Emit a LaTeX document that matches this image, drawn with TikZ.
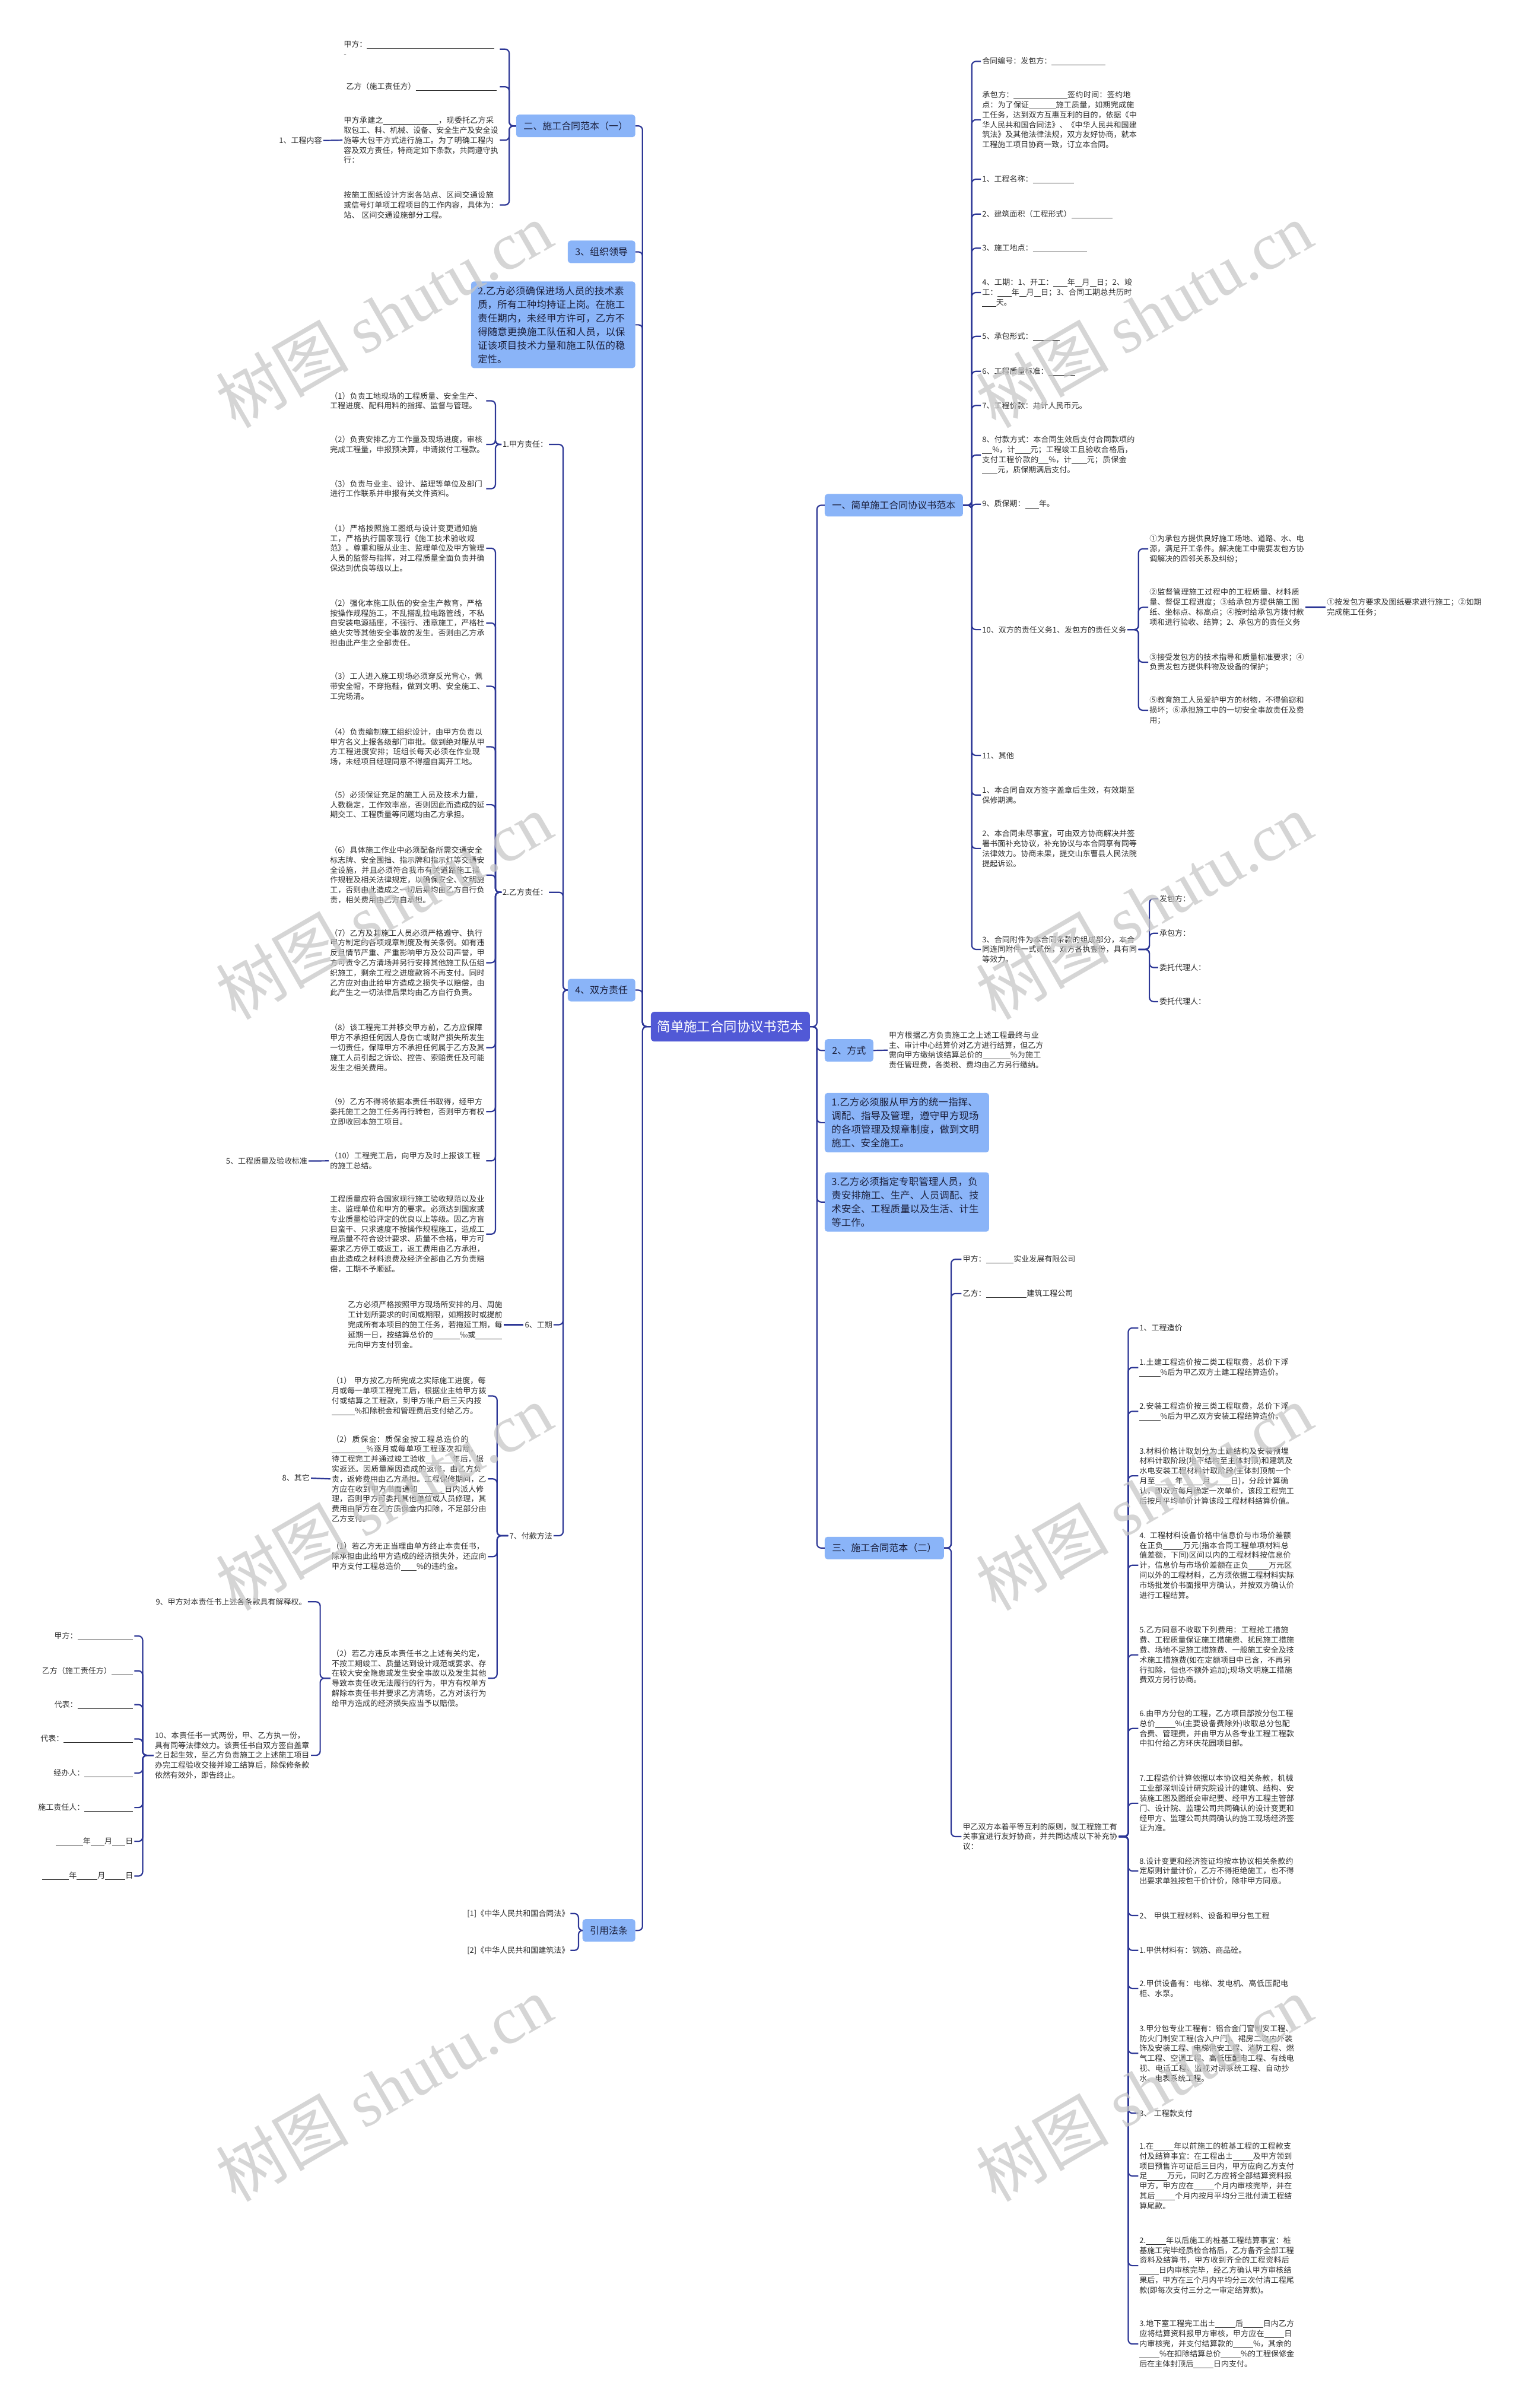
\documentclass[tikz,border=0pt]{standalone}
\usepackage{fontspec}
\setmainfont{Noto Sans CJK SC}
\newfontfamily\wmserif{Liberation Serif}
\XeTeXlinebreaklocale "zh"
\XeTeXlinebreakskip=0pt plus 1pt
\definecolor{lnc}{HTML}{2D3796}
\definecolor{txc}{HTML}{2E2E2E}
\definecolor{bluefill}{HTML}{8AB4F8}
\definecolor{ctrfill}{HTML}{5159D6}
\definecolor{navytext}{HTML}{1B1F3B}
\newcommand\blnk[1]{\penalty0\rule[-0.18em]{#1em}{0.06em}\penalty0}
\newcommand\conL[3]{\draw[ln] (#1.west) -- (#1.west -| #3) -- (#3 |- #2.east) -- (#2.east);}
\newcommand\conR[3]{\draw[ln] (#1.east) -- (#1.east -| #3) -- (#3 |- #2.west) -- (#2.west);}
\tikzset{
  ln/.style={draw=lnc, line width=2.2pt, rounded corners=7pt},
  tx/.style={font=\fontsize{13}{16.8}\selectfont, text=txc, align=left, inner xsep=2pt, inner ysep=2pt},
  txw/.style={tx, text width=261pt},
  lvone/.style={fill=bluefill, rounded corners=5pt, font=\fontsize{16}{23}\selectfont, text=navytext, inner xsep=12.5pt, minimum height=38pt},
  lvonew/.style={lvone, text width=254pt, align=left, inner xsep=11.5pt, inner ysep=8pt, font=\fontsize{16.4}{23}\selectfont},
  ctr/.style={fill=ctrfill, rounded corners=6pt, text=white, font=\fontsize{22.4}{26}\selectfont, minimum width=268pt, minimum height=50pt},
  wm/.style={font=\fontsize{112}{112}\selectfont, text=black!22, opacity=0.75, rotate=30}
}
\begin{document}
\begin{tikzpicture}[x=2.5885pt,y=-2.5885pt]
\useasboundingbox[fill=white] (0,0) rectangle (989,1568);

% ---------- centre ----------
\node[ctr] (C) at (475.6,668.5) {简单施工合同协议书范本};

% ---------- level 1, left ----------
\node[lvone, anchor=east] (L1) at (413.8,82) {二、施工合同范本（一）};
\node[lvone, anchor=east] (L2) at (413.8,164) {3、组织领导};
\node[lvonew, anchor=east] (L3) at (413.8,211.5) {2.乙方必须确保进场人员的技术素质，所有工种均持证上岗。在施工责任期内，未经甲方许可，乙方不得随意更换施工队伍和人员，以保证该项目技术力量和施工队伍的稳定性。};
\node[lvone, anchor=east] (L4) at (413.8,644.7) {4、双方责任};
\node[lvone, anchor=east] (L5) at (413.8,1257) {引用法条};

% ---------- level 1, right ----------
\node[lvone, anchor=west] (R1) at (537,329) {一、简单施工合同协议书范本};
\node[lvone, anchor=west] (R2) at (537,684) {2、方式};
\node[lvonew, anchor=west] (R3) at (537,731) {1.乙方必须服从甲方的统一指挥、调配、指导及管理，遵守甲方现场的各项管理及规章制度，做到文明施工、安全施工。};
\node[lvonew, anchor=west] (R4) at (537,782.7) {3.乙方必须指定专职管理人员，负责安排施工、生产、人员调配、技术安全、工程质量以及生活、计生等工作。};
\node[lvone, anchor=west] (R5) at (537,1008) {三、施工合同范本（二）};

\coordinate (tL) at (418.4,0);
\coordinate (tR) at (532,0);
\foreach \n in {L1,L2,L3,L4,L5} {\conL{C}{\n}{tL}}
\foreach \n in {R1,R2,R3,R4,R5} {\conR{C}{\n}{tR}}

% ---------- 二、施工合同范本（一） ----------
\coordinate (bA) at (331.6,0);
\node[txw, anchor=west] (a1) at (223,32) {甲方：\blnk{16.5}\\-};
\node[txw, anchor=west] (a2) at (223,56.5) {\ 乙方（施工责任方）\blnk{10.5}};
\node[txw, anchor=west] (a3) at (223,91.3) {甲方承建之\blnk{7.2}，现委托乙方采取包工、料、机械、设备、安全生产及安全设施等大包干方式进行施工。为了明确工程内容及双方责任，特商定如下条款，共同遵守执行：};
\node[txw, anchor=west] (a4) at (223,133.5) {按施工图纸设计方案各站点、区间交通设施或信号灯单项工程项目的工作内容，具体为：站、 区间交通设施部分工程。};
\node[tx, anchor=east] (a5) at (210.5,91.5) {1、工程内容};
\foreach \n in {a1,a2,a3,a4} {\conL{L1}{\n}{bA}}
\draw[ln] (a3.west) -- (a5.east);

% ---------- 4、双方责任 ----------
\coordinate (bB) at (366.7,0);
\node[tx, anchor=east] (b1) at (357.5,289.4) {1.甲方责任：};
\node[tx, anchor=east] (b2) at (357.5,581) {2.乙方责任：};
\node[tx, anchor=east] (b3) at (360.5,862.6) {6、工期};
\node[tx, anchor=east] (b4) at (360.5,1000) {7、付款方法};
\foreach \n in {b1,b2,b3,b4} {\conL{L4}{\n}{bB}}

\coordinate (bC) at (322.6,0);
\node[txw, anchor=west] (c1) at (214.1,261) {（1）负责工地现场的工程质量、安全生产、工程进度、配料用料的指挥、监督与管理。};
\node[txw, anchor=west] (c2) at (214.1,289.4) {（2）负责安排乙方工作量及现场进度，审核完成工程量，申报预决算，申请拨付工程款。};
\node[txw, anchor=west] (c3) at (214.1,318.2) {（3）负责与业主、设计、监理等单位及部门进行工作联系并申报有关文件资料。};
\foreach \n in {c1,c2,c3} {\conL{b1}{\n}{bC}}

\node[txw, anchor=west] (d1) at (214.1,357) {（1）严格按照施工图纸与设计变更通知施工，严格执行国家现行《施工技术验收规范》。尊重和服从业主、监理单位及甲方管理人员的监督与指挥，对工程质量全面负责并确保达到优良等级以上。};
\node[txw, anchor=west] (d2) at (214.1,405.7) {（2）强化本施工队伍的安全生产教育，严格按操作规程施工，不乱搭乱拉电路管线，不私自安装电源插座，不强行、违章施工，严格杜绝火灾等其他安全事故的发生。否则由乙方承担由此产生之全部责任。};
\node[txw, anchor=west] (d3) at (214.1,446.9) {（3）工人进入施工现场必须穿反光背心，佩带安全帽，不穿拖鞋，做到文明、安全施工、工完场清。};
\node[txw, anchor=west] (d4) at (214.1,486.3) {（4）负责编制施工组织设计，由甲方负责以甲方名义上报各级部门审批。做到绝对服从甲方工程进度安排；班组长每天必须在作业现场，未经项目经理同意不得擅自离开工地。};
\node[txw, anchor=west] (d5) at (214.1,524) {（5）必须保证充足的施工人员及技术力量，人数稳定，工作效率高，否则因此而造成的延期交工、工程质量等问题均由乙方承担。};
\node[txw, anchor=west] (d6) at (214.1,569.8) {（6）具体施工作业中必须配备所需交通安全标志牌、安全围挡、指示牌和指示灯等交通安全设施，并且必须符合我市有关道路施工操作规程及相关法律规定，以确保安全、文明施工，否则由此造成之一切后果均由乙方自行负责，相关费用由乙方自承担。};
\node[txw, anchor=west] (d7) at (214.1,626.9) {（7）乙方及其施工人员必须严格遵守、执行甲方制定的各项规章制度及有关条例。如有违反且情节严重、严重影响甲方及公司声誉，甲方可责令乙方清场并另行安排其他施工队伍组织施工，剩余工程之进度款将不再支付。同时乙方应对由此给甲方造成之损失予以赔偿，由此产生之一切法律后果均由乙方自行负责。};
\node[txw, anchor=west] (d8) at (214.1,682.2) {（8）该工程完工并移交甲方前，乙方应保障甲方不承担任何因人身伤亡或财产损失所发生一切责任，保障甲方不承担任何属于乙方及其施工人员引起之诉讼、控告、索赔责任及可能发生之相关费用。};
\node[txw, anchor=west] (d9) at (214.1,723.8) {（9）乙方不得将依据本责任书取得，经甲方委托施工之施工任务再行转包，否则甲方有权立即收回本施工项目。};
\node[txw, anchor=west] (d10) at (214.1,755.9) {（10）工程完工后，向甲方及时上报该工程的施工总结。};
\node[txw, anchor=west] (d11) at (214.1,803.6) {工程质量应符合国家现行施工验收规范以及业主、监理单位和甲方的要求。必须达到国家或专业质量检验评定的优良以上等级。因乙方盲目蛮干、只求速度不按操作规程施工，造成工程质量不符合设计要求、质量不合格，甲方可要求乙方停工或返工，返工费用由乙方承担，由此造成之材料浪费及经济全部由乙方负责赔偿，工期不予顺延。};
\foreach \i in {1,...,11} {\conL{b2}{d\i}{bC}}
\node[tx, anchor=east] (d10a) at (201,756) {5、工程质量及验收标准};
\draw[ln] (d10.west) -- (d10a.east);

\node[txw, anchor=west] (e1) at (225.7,862.6) {乙方必须严格按照甲方现场所安排的月、周施工计划所要求的时间或期限，如期按时或提前完成所有本项目的施工任务，若拖延工期，每延期一日，按结算总价的\blnk{3.5}‰或\blnk{3.4}元向甲方支付罚金。};
\draw[ln] (b3.west) -- (e1.east);

\coordinate (bD) at (323.7,0);
\node[txw, anchor=west] (f1) at (215.2,909) {（1） 甲方按乙方所完成之实际施工进度，每月或每一单项工程完工后，根据业主给甲方拨付或结算之工程款，到甲方帐户后三天内按\blnk{3}\%扣除税金和管理费后支付给乙方。};
\node[txw, anchor=west] (f2) at (215.2,963) {（2）质保金：质保金按工程总造价的\blnk{4.5}\%逐月或每单项工程逐次扣除，待工程完工并通过竣工验收\blnk{3.5}年后，据实返还。因质量原因造成的返修，由乙方负责，返修费用由乙方承担。工程保修期间，乙方应在收到甲方书面通知\blnk{3.5}日内派人修理，否则甲方可委托其他单位或人员修理，其费用由甲方在乙方质保金内扣除，不足部分由乙方支付。};
\node[txw, anchor=west] (f3) at (215.2,1013.6) {（1）若乙方无正当理由单方终止本责任书，除承担由此给甲方造成的经济损失外，还应向甲方支付工程总造价\blnk{2}\%的违约金。};
\node[txw, anchor=west] (f4) at (215.2,1092.8) {（2）若乙方违反本责任书之上述有关约定，不按工期竣工、质量达到设计规范或要求、存在较大安全隐患或发生安全事故以及发生其他导致本责任收无法履行的行为，甲方有权单方解除本责任书并要求乙方清场，乙方对该行为给甲方造成的经济损失应当予以赔偿。};
\foreach \n in {f1,f2,f3,f4} {\conL{b4}{\n}{bD}}
\node[tx, anchor=east] (f2a) at (202.5,962.5) {8、其它};
\draw[ln] (f2.west) -- (f2a.east);

\coordinate (bE) at (208.5,0);
\node[tx, anchor=east] (g1) at (200.5,1043) {9、甲方对本责任书上述各条款具有解释权。};
\node[txw, anchor=west] (g2) at (100,1143) {10、本责任书一式两份，甲、乙方执一份，具有同等法律效力。该责任书自双方签自盖章之日起生效，至乙方负责施工之上述施工项目办完工程验收交接并竣工结算后，除保修条款依然有效外，即告终止。};
\foreach \n in {g1,g2} {\conL{f4}{\n}{bE}}

\coordinate (bF) at (92.9,0);
\node[tx, anchor=east] (h1) at (87.5,1065.3) {甲方：\blnk{7.2}};
\node[tx, anchor=east] (h2) at (87.5,1088) {乙方（施工责任方）\blnk{2.8}};
\node[tx, anchor=east] (h3) at (87.5,1110) {代表：\blnk{7.2}};
\node[tx, anchor=east] (h4) at (87.5,1132.3) {代表：\blnk{9}};
\node[tx, anchor=east] (h5) at (87.5,1154.5) {经办人：\blnk{6.3}};
\node[tx, anchor=east] (h6) at (87.5,1177) {施工责任人：\blnk{6.3}};
\node[tx, anchor=east] (h7) at (87.5,1199) {\blnk{3.5}年\blnk{1.8}月\blnk{1.7}日};
\node[tx, anchor=east] (h8) at (87.5,1221.6) {\blnk{3.5}年\blnk{2.7}月\blnk{2.6}日};
\foreach \n in {h1,h2,h3,h4,h5,h6,h7,h8} {\conL{g2}{\n}{bF}}

% ---------- 引用法条 ----------
\coordinate (bG) at (376.7,0);
\node[tx, anchor=east] (k1) at (371.5,1246) {[1]《中华人民共和国合同法》};
\node[tx, anchor=east] (k2) at (371.5,1270) {[2]《中华人民共和国建筑法》};
\foreach \n in {k1,k2} {\conL{L5}{\n}{bG}}

% ---------- 一、简单施工合同协议书范本 ----------
\coordinate (bR1) at (632.8,0);
\node[txw, anchor=west] (m1) at (638.8,40) {合同编号：发包方：\blnk{7}};
\node[txw, anchor=west] (m2) at (638.8,78) {承包方：\blnk{7}签约时间：签约地点：为了保证\blnk{3.5}施工质量，如期完成施工任务，达到双方互惠互利的目的，依据《中华人民共和国合同法》、《中华人民共和国建筑法》及其他法律法规，双方友好协商，就本工程施工项目协商一致，订立本合同。};
\node[txw, anchor=west] (m3) at (638.8,116.7) {1、工程名称：\blnk{5.3}};
\node[txw, anchor=west] (m4) at (638.8,139.4) {2、建筑面积（工程形式）\blnk{5.3}};
\node[txw, anchor=west] (m5) at (638.8,161.6) {3、施工地点：\blnk{7}};
\node[txw, anchor=west] (m6) at (638.8,190.5) {4、工期：1、开工：\blnk{1.8}年\blnk{0.9}月\blnk{0.9}日；2、竣工：\blnk{1.8}年\blnk{0.9}月\blnk{0.9}日；3、合同工期总共历时\blnk{1.8}天。};
\node[txw, anchor=west] (m7) at (638.8,219) {5、承包形式：\blnk{3.5}};
\node[txw, anchor=west] (m8) at (638.8,241.8) {6、工程质量标准：\blnk{3.5}};
\node[txw, anchor=west] (m9) at (638.8,264) {7、工程价款：共计人民币元。};
\node[txw, anchor=west] (m10) at (638.8,296.3) {8、付款方式：本合同生效后支付合同款项的\blnk{1.3}\%，计\blnk{2}元；工程竣工且验收合格后，支付工程价款的\blnk{1.3}\%，计\blnk{2}元；质保金\blnk{2}元，质保期满后支付。};
\node[txw, anchor=west] (m11) at (638.8,328.3) {9、质保期：\blnk{1.8}年。};
\node[tx, anchor=west] (m12) at (638.8,410) {10、双方的责任义务1、发包方的责任义务};
\node[txw, anchor=west] (m13) at (638.8,491.9) {11、其他};
\node[txw, anchor=west] (m14) at (638.8,517.7) {1、本合同自双方签字盖章后生效，有效期至保修期满。};
\node[txw, anchor=west] (m15) at (638.8,552.5) {2、本合同未尽事宜，可由双方协商解决并签署书面补充协议，补充协议与本合同享有同等法律效力。协商未果，提交山东曹县人民法院提起诉讼。};
\node[txw, anchor=west] (m16) at (638.8,618.2) {3、合同附件为本合同条款的组成部分，本合同连同附件一式贰份，双方各执壹份，具有同等效力。};
\foreach \i in {1,...,16} {\conR{R1}{m\i}{bR1}}

\coordinate (bR2) at (741.4,0);
\node[txw, anchor=west] (n1) at (747.7,357.4) {①为承包方提供良好施工场地、道路、水、电源，满足开工条件。解决施工中需要发包方协调解决的四邻关系及纠纷；};
\node[txw, anchor=west] (n2) at (747.7,395.5) {②监督管理施工过程中的工程质量、材料质量、督促工程进度；③给承包方提供施工图纸、坐标点、标高点；④按时给承包方拨付款项和进行验收、结算；2、承包方的责任义务};
\node[txw, anchor=west] (n3) at (747.7,431.2) {③接受发包方的技术指导和质量标准要求；④负责发包方提供料物及设备的保护；};
\node[txw, anchor=west] (n4) at (747.7,462.5) {⑤教育施工人员爱护甲方的材物，不得偷窃和损坏；⑥承担施工中的一切安全事故责任及费用；};
\foreach \n in {n1,n2,n3,n4} {\conR{m12}{\n}{bR2}}
\node[txw, anchor=west] (n2a) at (863.3,395.5) {①按发包方要求及图纸要求进行施工；②如期完成施工任务；};
\draw[ln] (n2.east) -- (n2a.west);

\coordinate (bR3) at (748.5,0);
\node[tx, anchor=west] (o1) at (754.2,585.2) {发包方：};
\node[tx, anchor=west] (o2) at (754.2,607.7) {承包方：};
\node[tx, anchor=west] (o3) at (754.2,630) {委托代理人：};
\node[tx, anchor=west] (o4) at (754.2,652.2) {委托代理人：};
\foreach \n in {o1,o2,o3,o4} {\conR{m16}{\n}{bR3}}

% ---------- 2、方式 ----------
\node[txw, anchor=west] (p1) at (578,683.8) {甲方根据乙方负责施工之上述工程最终与业主、审计中心结算价对乙方进行结算，但乙方需向甲方缴纳该结算总价的\blnk{3.6}\%为施工责任管理费，各类税、费均由乙方另行缴纳。};
\draw[ln] (R2.east) -- (p1.west);

% ---------- 三、施工合同范本（二） ----------
\coordinate (bR4) at (619.4,0);
\node[txw, anchor=west] (q1) at (626.1,820) {甲方：\blnk{3.6}实业发展有限公司};
\node[txw, anchor=west] (q2) at (626.1,842.3) {乙方：\blnk{5.3}建筑工程公司};
\node[txw, anchor=west] (q3) at (626.1,1195.9) {甲乙双方本着平等互利的原则，就工程施工有关事宜进行友好协商，并共同达成以下补充协议：};
\foreach \n in {q1,q2,q3} {\conR{R5}{\n}{bR4}}

\coordinate (bR5) at (734.7,0);
\node[txw, anchor=west] (r1) at (741.2,864.7) {1、工程造价};
\node[txw, anchor=west] (r2) at (741.2,890.5) {1.土建工程造价按二类工程取费，总价下浮\blnk{2.7}\%后为甲乙双方土建工程结算造价。};
\node[txw, anchor=west] (r3) at (741.2,919) {2.安装工程造价按三类工程取费，总价下浮\blnk{2.7}\%后为甲乙双方安装工程结算造价。};
\node[txw, anchor=west] (r4) at (741.2,961) {3.材料价格计取划分为土建结构及安装预埋材料计取阶段(地下结构至主体封顶)和建筑及水电安装工程材料计取阶段(主体封顶前一个月至\blnk{2.6}年\blnk{2.6}月\blnk{2.6}日)，分段计算确认，即双方每月确定一次单价，该段工程完工后按月平均单价计算该段工程材料结算价值。};
\node[txw, anchor=west] (r5) at (741.2,1019.2) {4. 工程材料设备价格中信息价与市场价差额在正负\blnk{2.6}万元(指本合同工程单项材料总值差额，下同)区间以内的工程材料按信息价计，信息价与市场价差额在正负\blnk{2.6}万元区间以外的工程材料，乙方须依据工程材料实际市场批发价书面报甲方确认，并按双方确认价进行工程结算。};
\node[txw, anchor=west] (r6) at (741.2,1077.6) {5.乙方同意不收取下列费用：工程抢工措施费、工程质量保证施工措施费、扰民施工措施费、场地不足施工措施费、一般施工安全及技术施工措施费(如在定额项目中已含，不再另行扣除，但也不额外追加);现场文明施工措施费双方另行协商。};
\node[txw, anchor=west] (r7) at (741.2,1125.5) {6.由甲方分包的工程，乙方项目部按分包工程总价\blnk{2.6}\%(主要设备费除外)收取总分包配合费、管理费，并由甲方从各专业工程工程款中扣付给乙方环庆花园项目部。};
\node[txw, anchor=west] (r8) at (741.2,1174.2) {7.工程造价计算依据以本协议相关条款，机械工业部深圳设计研究院设计的建筑、结构、安装施工图及图纸会审纪要、经甲方工程主管部门、设计院、监理公司共同确认的设计变更和经甲方、监理公司共同确认的施工现场经济签证为准。};
\node[txw, anchor=west] (r9) at (741.2,1218.3) {8.设计变更和经济签证均按本协议相关条款约定原则计量计价，乙方不得拒绝施工，也不得出要求单独按包干价计价，除非甲方同意。};
\node[txw, anchor=west] (r10) at (741.2,1247.3) {2、 甲供工程材料、设备和甲分包工程};
\node[txw, anchor=west] (r11) at (741.2,1270) {1.甲供材料有：钢筋、商品砼。};
\node[txw, anchor=west] (r12) at (741.2,1294.8) {2.甲供设备有：电梯、发电机、高低压配电柜、水泵。};
\node[txw, anchor=west] (r13) at (741.2,1337) {3.甲分包专业工程有：铝合金门窗制安工程、防火门制安工程(含入户门)、裙房二次内外装饰及安装工程、电梯供安工程、消防工程、燃气工程、空调工程、高低压配电工程、有线电视、电话工程、监视对讲系统工程、自动抄水、电表系统工程。};
\node[txw, anchor=west] (r14) at (741.2,1376) {3、 工程款支付};
\node[txw, anchor=west] (r15) at (741.2,1416.9) {1.在\blnk{2.6}年以前施工的桩基工程的工程款支付及结算事宜：在工程出±\blnk{2.6}及甲方领到项目预售许可证后三日内，甲方应向乙方支付足\blnk{2.6}万元，同时乙方应将全部结算资料报甲方，甲方应在\blnk{2.6}个月内审核完毕，并在其后\blnk{2.6}个月内按月平均分三批付清工程结算尾款。};
\node[txw, anchor=west] (r16) at (741.2,1475.3) {2.\blnk{2.6}年以后施工的桩基工程结算事宜：桩基施工完毕经质检合格后，乙方备齐全部工程资料及结算书，甲方收到齐全的工程资料后\blnk{2.5}日内审核完毕，经乙方确认甲方审核结果后，甲方在三个月内平均分三次付清工程尾款(即每次支付三分之一审定结算款)。};
\node[txw, anchor=west] (r17) at (741.2,1526.3) {3.地下室工程完工出±\blnk{2.6}后\blnk{2.6}日内乙方应将结算资料报甲方审核，甲方应在\blnk{2.6}日内审核完，并支付结算款的\blnk{2.6}\%，其余的\blnk{2.6}\%在扣除结算总价\blnk{2.6}\%的工程保修金后在主体封顶后\blnk{2.6}日内支付。};
\foreach \i in {1,...,17} {\conR{q3}{r\i}{bR5}}

% ---------- watermarks ----------
\foreach \yy in {205,590,975,1360} {
  \foreach \xx in {250,745} {
    \node[wm] (wm-\xx-\yy) at (\xx,\yy) {树图 {\wmserif shutu.cn}};
  }
}
\end{tikzpicture}
\end{document}
